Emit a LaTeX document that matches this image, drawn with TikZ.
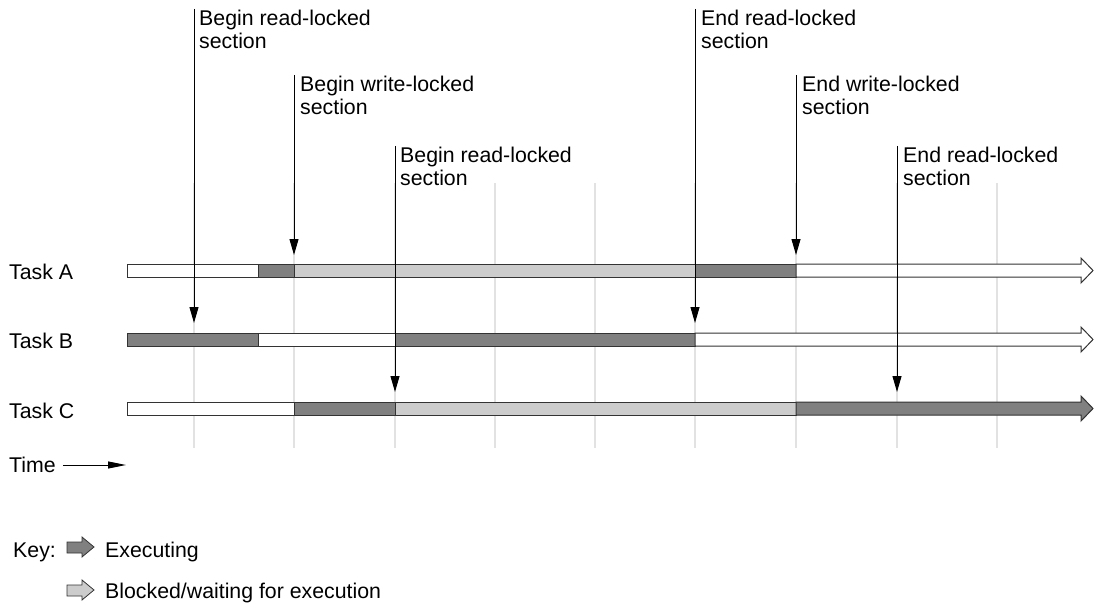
\documentclass[tikz,border=0pt]{standalone}
\usepackage{fontspec}
\setmainfont{Liberation Sans}
\usetikzlibrary{arrows.meta}
\definecolor{execgray}{HTML}{808080}
\definecolor{waitgray}{HTML}{CCCCCC}
\definecolor{gridgray}{HTML}{E2E2E2}
\definecolor{edgegray}{HTML}{333333}
\begin{document}
\begin{tikzpicture}[x=1pt,y=-1pt,
  lbl/.style={inner sep=0pt,font=\fontsize{21.3}{23.5}\selectfont},
  note/.style={lbl,align=left,anchor=north west},
  gridline/.style={draw=gridgray,line width=2pt},
  seg/.style={draw=edgegray,line width=1pt},
  exec/.style={seg,fill=execgray},
  wait/.style={seg,fill=waitgray},
  idle/.style={seg,fill=white},
  marker/.style={draw=black,line width=1pt,-{Triangle[length=16pt,width=9pt]}}]
\useasboundingbox (0,0) rectangle (1094,604);
% grid
\foreach \gx in {194,294,395,495,595,695,796,897,997}
  \draw[gridline] (\gx,183) -- (\gx,448);
% Task A (264-277)
\draw[idle] (127,264) rectangle (258,277);
\draw[exec] (258,264) rectangle (294,277);
\draw[wait] (294,264) rectangle (695,277);
\draw[exec] (695,264) rectangle (796,277);
\draw[idle] (796,264) -- (1081,264) -- (1081,258) -- (1093,270.5) -- (1081,283) -- (1081,277) -- (796,277) -- cycle;
% Task B (333-346)
\draw[exec] (127,333) rectangle (258,346);
\draw[idle] (258,333) rectangle (395,346);
\draw[exec] (395,333) rectangle (695,346);
\draw[idle] (695,333) -- (1081,333) -- (1081,327) -- (1093,339.5) -- (1081,352) -- (1081,346) -- (695,346) -- cycle;
% Task C (402-415)
\draw[idle] (127,402) rectangle (294,415);
\draw[exec] (294,402) rectangle (395,415);
\draw[wait] (395,402) rectangle (796,415);
\draw[exec] (796,402) -- (1081,402) -- (1081,396) -- (1093,408.5) -- (1081,421) -- (1081,415) -- (796,415) -- cycle;
% task labels
\node[lbl,anchor=west] (ta) at (9,272) {Task A};
\node[lbl,anchor=west] (tb) at (9,341) {Task B};
\node[lbl,anchor=west] (tc) at (9,411) {Task C};
% annotations
\coordinate (s1) at (194,9);   \coordinate (e1) at (194,323);
\coordinate (s2) at (294,75);  \coordinate (e2) at (294,255);
\coordinate (s3) at (395,146); \coordinate (e3) at (395,392);
\coordinate (s4) at (695,9);   \coordinate (e4) at (695,323);
\coordinate (s5) at (796,75);  \coordinate (e5) at (796,255);
\coordinate (s6) at (897,146); \coordinate (e6) at (897,392);
\foreach \i in {1,...,6} \draw[marker] (s\i) -- (e\i);
\node[note] (n1) at (199,9.5) {Begin read-locked\\section};
\node[note] (n2) at (300,75.5) {Begin write-locked\\section};
\node[note] (n3) at (400,146.5) {Begin read-locked\\section};
\node[note] (n4) at (701,9.5) {End read-locked\\section};
\node[note] (n5) at (802,75.5) {End write-locked\\section};
\node[note] (n6) at (903,146.5) {End read-locked\\section};
% time
\node[lbl,anchor=west] (time) at (9,465) {Time};
\coordinate (t1) at (126,465);
\draw[line width=1pt,-{Triangle[length=18pt,width=7pt]}] (time.east) ++(7,0) -- (t1);
% key
\node[lbl,anchor=base west] (key) at (13,557) {Key:};
\draw[seg,line width=0.8pt,fill=execgray] (67,542) -- (82,542) -- (82,537) -- (94,547) -- (82,557) -- (82,553) -- (67,553) -- cycle;
\node[lbl,anchor=base west] (kexec) at (105,557) {Executing};
\draw[seg,line width=0.8pt,fill=waitgray] (67,585) -- (82,585) -- (82,580) -- (94,590) -- (82,600) -- (82,596) -- (67,596) -- cycle;
\node[lbl,anchor=base west] (kwait) at (105,598) {Blocked/waiting for execution};
\end{tikzpicture}
\end{document}
